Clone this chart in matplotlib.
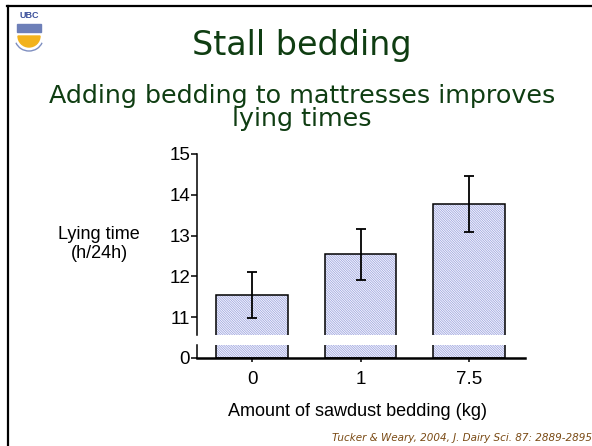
import numpy as np
import matplotlib
matplotlib.use('Agg')
import matplotlib.pyplot as plt
from matplotlib.patches import Wedge, Arc

# data
categories = ['0', '1', '7.5']
lying_time = [11.54, 12.54, 13.78]
sem = [0.57, 0.63, 0.69]
yticks_top = [11, 12, 13, 14, 15]

title = 'Stall bedding'
subtitle_1 = 'Adding bedding to mattresses improves'
subtitle_2 = 'lying times'
ylabel = 'Lying time\n(h/24h)'
xlabel = 'Amount of sawdust bedding (kg)'
citation = 'Tucker & Weary, 2004, J. Dairy Sci. 87: 2889-2895'

W, H = 592, 446
green = '#0f3d12'
hatch_col = '#8f97db'

plt.rcParams['hatch.linewidth'] = 0.45
plt.rcParams['font.family'] = ['Liberation Sans', 'DejaVu Sans']

fig = plt.figure(figsize=(W / 100, H / 100), dpi=100)

def fx(px):
	return px / W

def fy(py):
	return 1 - py / H

# broken y axis: upper part (10.56-15) and a small stub at 0
left, right = 197, 525
ax_top = fig.add_axes([fx(left), fy(335), fx(right - left), (335 - 154) / H])
ax_bot = fig.add_axes([fx(left), fy(358), fx(right - left), (358 - 345) / H])

x = np.arange(len(categories))
for ax in (ax_top, ax_bot):
	ax.bar(x, lying_time, width=0.66, color='#f4f5fc', edgecolor=hatch_col,
		   hatch='\\' * 14, linewidth=0)
	ax.bar(x, lying_time, width=0.66, color='none', edgecolor='black', linewidth=1.1)
	ax.set_xlim(-0.507, 2.516)
	for s in ['top', 'right']:
		ax.spines[s].set_visible(False)
	ax.spines['left'].set_linewidth(1.1)
	ax.tick_params(axis='y', length=4, width=1.1, labelsize=13.5, pad=1)

ax_top.errorbar(x, lying_time, yerr=sem, fmt='none', ecolor='black',
				elinewidth=1.3, capsize=3.5, capthick=1.3)
ax_top.set_ylim(10.56, 15)
ax_top.set_yticks(yticks_top)
ax_top.spines['bottom'].set_visible(False)
ax_top.set_xticks([])

ax_bot.set_ylim(0, 13 / 41)
ax_bot.set_yticks([0])
ax_bot.spines['bottom'].set_linewidth(1.8)
ax_bot.set_xticks(x)
ax_bot.set_xticklabels(categories)
ax_bot.tick_params(axis='x', length=3, width=1.1, labelsize=13.5, pad=6)

# slide texts
fig.text(fx(302), fy(55), title, ha='center', va='baseline', fontsize=24,
		 color=green, family=['DejaVu Sans'])
fig.text(fx(302), fy(103), subtitle_1, ha='center', va='baseline', fontsize=18.3,
		 color=green, family=['DejaVu Sans'])
fig.text(fx(302), fy(126), subtitle_2, ha='center', va='baseline', fontsize=18.3,
		 color=green, family=['DejaVu Sans'])
fig.text(fx(99), fy(244), ylabel, ha='center', va='center', fontsize=13,
		 multialignment='center', linespacing=1.1)
fig.text(fx(357), fy(412), xlabel, ha='center', va='center', fontsize=13)
fig.text(fx(592), fy(441), citation, ha='right', va='baseline', fontsize=7.5,
		 style='italic', color='#7a4a14', family=['DejaVu Sans'])

# slide border
fig.add_artist(plt.Line2D([fx(7), 1], [fy(6), fy(6)], color='black', lw=1.6))
fig.add_artist(plt.Line2D([fx(8), fx(8)], [fy(6), 0], color='black', lw=1.6))

# rough UBC logo
logo = fig.add_axes([fx(12), fy(56), fx(34), 48 / H])
logo.set_xlim(0, 34)
logo.set_ylim(0, 48)
logo.axis('off')
logo.text(17, 40, 'UBC', ha='center', va='center', fontsize=6.5,
		  fontweight='bold', color='#3a4f9a')
logo.add_patch(plt.Rectangle((5, 24), 24, 8, color='#6d7fb8'))
logo.add_patch(Wedge((17, 20), 11, 180, 360, color='#f2b21c'))
logo.add_patch(Arc((17, 18), 28, 26, theta1=200, theta2=340, color='#7f8fc0', lw=1))

fig.savefig('out.png', dpi=100)
